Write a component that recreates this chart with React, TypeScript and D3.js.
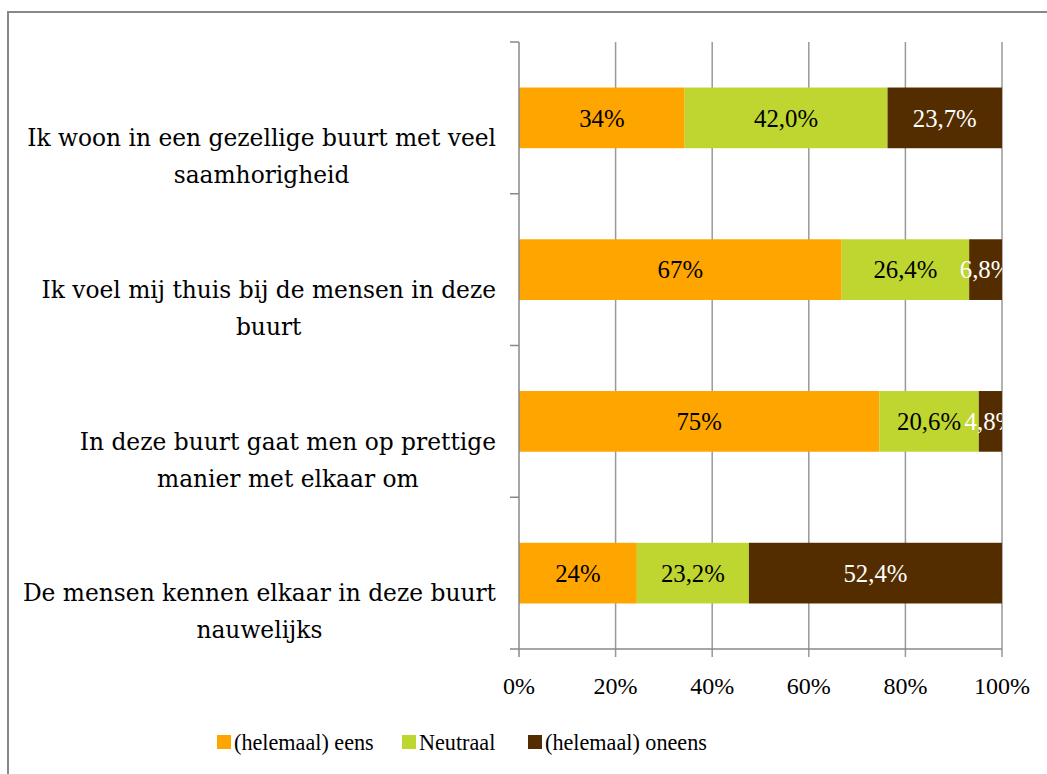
import React from 'react';
import * as d3 from 'd3';

// statements (two lines each, as wrapped in the original)
const categories = [
  ['Ik woon in een gezellige buurt met veel', 'saamhorigheid'],
  ['Ik voel mij thuis bij de mensen in deze', 'buurt'],
  ['In deze buurt gaat men op prettige', 'manier met elkaar om'],
  ['De mensen kennen elkaar in deze buurt', 'nauwelijks'],
];
const eens = [34.3, 66.8, 74.6, 24.4];
const neutraal = [42.0, 26.4, 20.6, 23.2];
const oneens = [23.7, 6.8, 4.8, 52.4];
const seriesNames = ['(helemaal) eens', 'Neutraal', '(helemaal) oneens'];
const colors = ['#FFA500', '#BED62F', '#532D00'];
const labelColors = ['#000', '#000', '#fff'];
const xTicks = [0, 20, 40, 60, 80, 100];

const W = 1047;
const H = 774;
const FONT_CAT = '"DejaVu Serif"';
const FONT = '"Liberation Serif"';

let ctx: CanvasRenderingContext2D | null = null;
const measure = (txt: string, size: number, font: string) => {
  if (!ctx) ctx = document.createElement('canvas').getContext('2d');
  if (!ctx) return txt.length * size * 0.5;
  ctx.font = `${size}px ${font}`;
  return ctx.measureText(txt).width;
};
// font size that makes txt about as wide as it is in the original
const fit = (txt: string, target: number, font: string) => {
  const w = measure(txt, 20, font);
  return w > 0 ? (20 * target) / w : 20;
};

const App = () => {
  const fsCat = fit(categories[0][0], 469, FONT_CAT);
  const fsTick = fit('100%', 56, FONT);
  const fsBar = fit('52,4%', 64, FONT);
  const fsLeg = fit(seriesNames[2], 162, FONT);

  const left = 519, right = 1002, top = 42, bottom = 649;
  const x = d3.scaleLinear().domain([0, 100]).range([left, right]);
  const idx = d3.range(categories.length);
  const y = d3.scaleBand<number>().domain(idx).range([top, bottom]).paddingInner(0.6).paddingOuter(0.3);
  const band = d3.scaleBand<number>().domain(idx).range([top, bottom]);
  const stack = d3.stack<number[]>().keys(['0', '1', '2']).value((d, key) => d[+key]);
  const layers = stack(idx.map(i => [eens[i], neutraal[i], oneens[i]]));
  const axisColor = '#888';
  const txtStyle = (size: number, font = FONT) => ({ fontFamily: font, fontSize: size });

  return (
    <svg width={W} height={H} style={{ position: 'absolute', left: 0, top: 0, background: '#fff' }}>
      <defs>
        <clipPath id="plotclip">
          <rect x={left} y={top} width={right - left} height={bottom - top} />
        </clipPath>
      </defs>
      <path d={`M8,${H}V12H${W}`} fill="none" stroke="#888" strokeWidth={2} />

      {xTicks.slice(1).map(t => (
        <line key={t} x1={x(t)} x2={x(t)} y1={top} y2={bottom + 8} stroke="#999" strokeWidth={1.5} />
      ))}

      {layers.map((layer, s) => (
        <g key={s}>
          {layer.map((d, i) => (
            <rect key={i} x={x(d[0])} y={y(i)} width={x(d[1]) - x(d[0])} height={y.bandwidth()} fill={colors[s]} />
          ))}
        </g>
      ))}
      <g clipPath="url(#plotclip)">
        {layers.map((layer, s) =>
          layer.map((d, i) => {
            const v = d[1] - d[0];
            const txt = s === 0 ? `${Math.round(v)}%` : `${v.toFixed(1).replace('.', ',')}%`;
            return (
              <text key={`${s}-${i}`} x={(x(d[0]) + x(d[1])) / 2} y={y(i)! + y.bandwidth() / 2} dy="0.35em"
                textAnchor="middle" fill={labelColors[s]} style={txtStyle(fsBar)}>
                {txt}
              </text>
            );
          })
        )}
      </g>

      <line x1={left} x2={left} y1={top} y2={bottom + 8} stroke={axisColor} strokeWidth={1.5} />
      <line x1={left - 9} x2={right} y1={bottom} y2={bottom} stroke={axisColor} strokeWidth={1.5} />
      {idx.map(i => (
        <line key={i} x1={left - 9} x2={left} y1={band(i)} y2={band(i)} stroke={axisColor} strokeWidth={1.5} />
      ))}

      {xTicks.map(t => (
        <text key={t} x={x(t)} y={686} dy="0.35em" textAnchor="middle" style={txtStyle(fsTick)}>{`${t}%`}</text>
      ))}

      {categories.map((lines, i) => {
        const cy = band(i)! + band.bandwidth() / 2;
        const w1 = measure(lines[0], fsCat, FONT_CAT);
        return (
          <g key={i} style={txtStyle(fsCat, FONT_CAT)}>
            <text x={496} y={cy + 20} dy="0.35em" textAnchor="end">{lines[0]}</text>
            <text x={496 - w1 / 2} y={cy + 57} dy="0.35em" textAnchor="middle">{lines[1]}</text>
          </g>
        );
      })}

      {seriesNames.map((name, s) => {
        const lx = [217, 402, 528][s];
        return (
          <g key={name}>
            <rect x={lx} y={735} width={14} height={14} fill={colors[s]} />
            <text x={lx + 17} y={742} dy="0.35em" style={txtStyle(fsLeg)}>{name}</text>
          </g>
        );
      })}
    </svg>
  );
};

export default App;
